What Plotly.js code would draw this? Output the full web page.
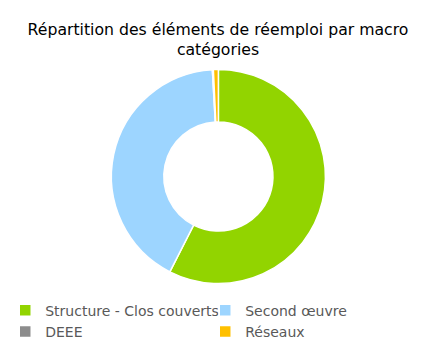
<!DOCTYPE html>
<html>
<head>
<meta charset="utf-8">
<script src="https://cdn.plot.ly/plotly-3.0.1.min.js"></script>
<style>html,body{margin:0;padding:0;background:#fff;}#chart{width:436px;height:358px;}</style>
</head>
<body>
<div id="chart"></div>
<script>
const categories = ["Structure - Clos couverts", "Second œuvre", "DEEE", "Réseaux"];
const values = [57.5, 41.6, 0.15, 0.75];
const colors = ["#92D400", "#9DD5FF", "#8C8C8C", "#FFC000"];
const titleText = "Répartition des éléments de réemploi par macro<br>catégories";

const trace = {
  type: "pie",
  labels: categories,
  values: values,
  hole: 0.51,
  sort: false,
  direction: "clockwise",
  rotation: 0,
  textinfo: "none",
  hoverinfo: "label+percent",
  marker: {colors: colors, line: {color: "#ffffff", width: 1.5}},
  domain: {x: [0.2555, 0.7463], y: [0.2081, 0.8059]}
};

const layout = {
  width: 436, height: 358,
  margin: {l: 0, r: 0, t: 0, b: 0, autoexpand: false},
  paper_bgcolor: "#ffffff",
  font: {family: "DejaVu Sans, sans-serif", color: "#595959"},
  title: {
    text: titleText,
    font: {family: "DejaVu Sans, sans-serif", size: 15.7, color: "#000000"},
    x: 0.5, xanchor: "center",
    y: 0.902, yanchor: "middle", yref: "container"
  },
  showlegend: true,
  legend: {
    orientation: "h",
    x: 0.012, xanchor: "left",
    y: 0.177, yanchor: "top",
    entrywidth: 155, entrywidthmode: "pixels",
    itemwidth: 30,
    font: {size: 14, color: "#595959"},
    traceorder: "normal"
  }
};

Plotly.newPlot("chart", [trace], layout, {displayModeBar: false, staticPlot: true});
</script>
</body>
</html>
